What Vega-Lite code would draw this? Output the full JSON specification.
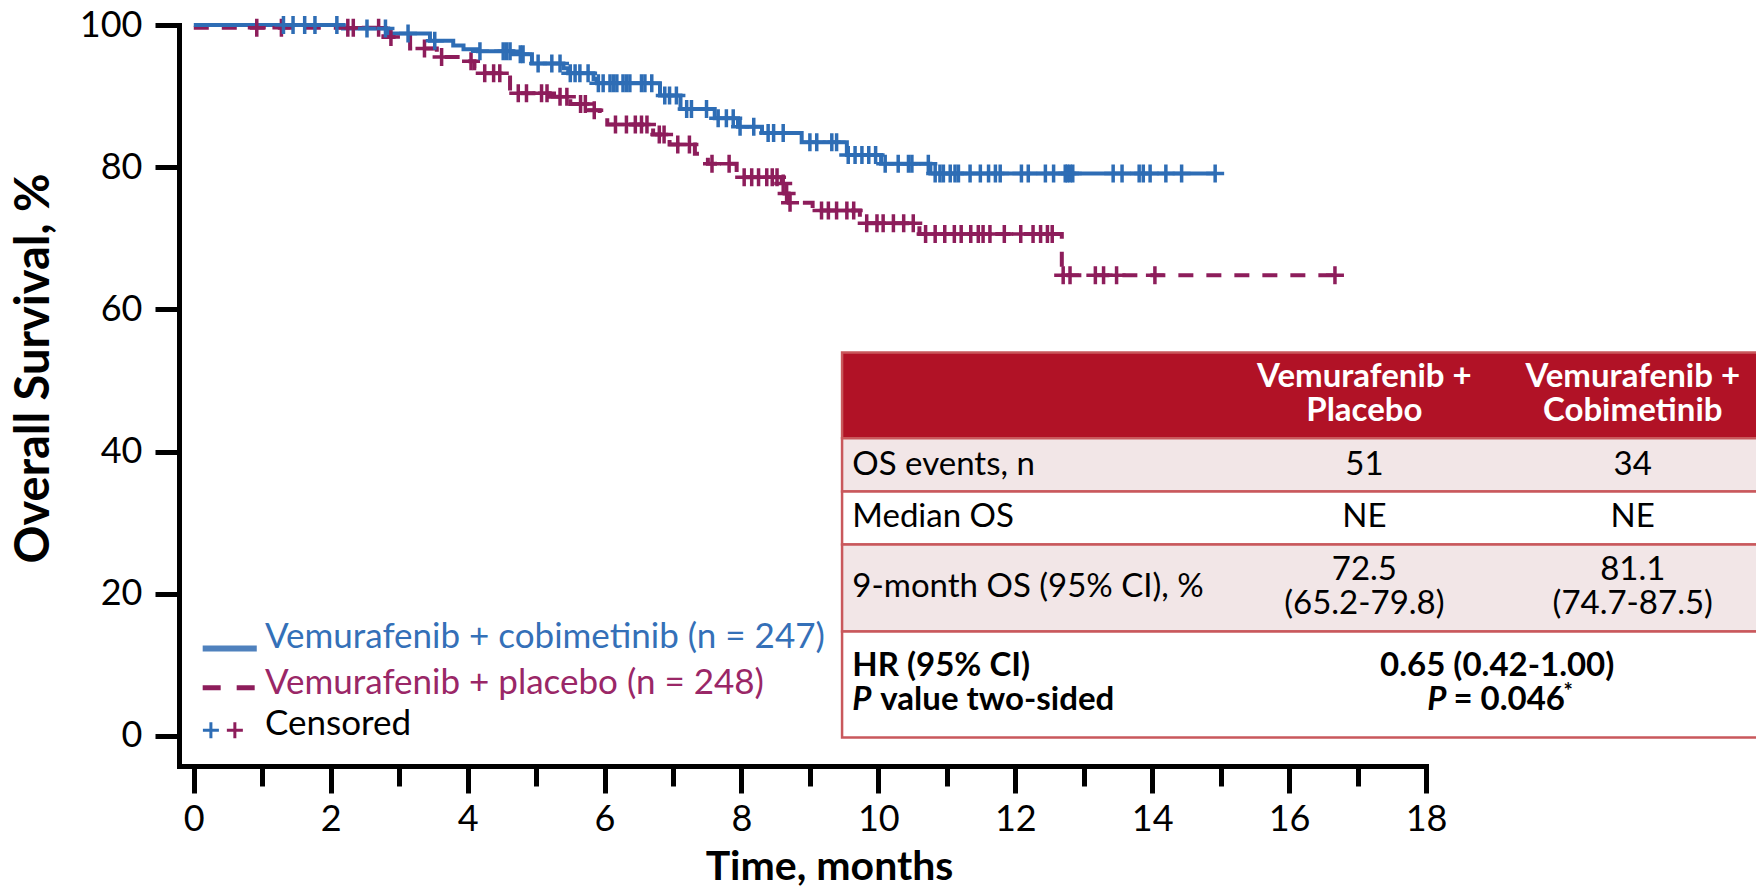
{
  "$schema": "https://vega.github.io/schema/vega-lite/v6.json",
  "width": 1247,
  "height": 741,
  "autosize": "none",
  "padding": {"left": 179, "top": 25, "right": 330, "bottom": 123},
  "background": "white",
  "config": {
    "view": {"stroke": null},
    "font": "Lato",
    "axis": {
      "grid": false,
      "domainColor": "black",
      "tickColor": "black",
      "labelColor": "black",
      "titleColor": "black",
      "domainWidth": 5,
      "domainCap": "square",
      "tickWidth": 5,
      "labelFont": "Lato",
      "labelFontSize": 36,
      "titleFont": "Lato",
      "titleFontWeight": "bold"
    }
  },
  "datasets": {
    "curves": [
      {"arm": "placebo", "time": 0, "surv": 99.6},
      {"arm": "placebo", "time": 2.77, "surv": 98.3},
      {"arm": "placebo", "time": 3.16, "surv": 96.7},
      {"arm": "placebo", "time": 3.55, "surv": 95.5},
      {"arm": "placebo", "time": 3.89, "surv": 94.9},
      {"arm": "placebo", "time": 4.10, "surv": 93.9},
      {"arm": "placebo", "time": 4.18, "surv": 93.2},
      {"arm": "placebo", "time": 4.62, "surv": 90.4},
      {"arm": "placebo", "time": 5.20, "surv": 89.9},
      {"arm": "placebo", "time": 5.50, "surv": 88.9},
      {"arm": "placebo", "time": 5.74, "surv": 88.0},
      {"arm": "placebo", "time": 5.93, "surv": 86.9},
      {"arm": "placebo", "time": 6.04, "surv": 86.0},
      {"arm": "placebo", "time": 6.71, "surv": 84.6},
      {"arm": "placebo", "time": 6.95, "surv": 83.2},
      {"arm": "placebo", "time": 7.32, "surv": 81.9},
      {"arm": "placebo", "time": 7.51, "surv": 80.5},
      {"arm": "placebo", "time": 7.93, "surv": 79.3},
      {"arm": "placebo", "time": 7.99, "surv": 78.6},
      {"arm": "placebo", "time": 8.59, "surv": 77.7},
      {"arm": "placebo", "time": 8.63, "surv": 76.3},
      {"arm": "placebo", "time": 8.69, "surv": 75.0},
      {"arm": "placebo", "time": 9.04, "surv": 73.9},
      {"arm": "placebo", "time": 9.73, "surv": 72.1},
      {"arm": "placebo", "time": 10.60, "surv": 70.6},
      {"arm": "placebo", "time": 12.68, "surv": 64.8},
      {"arm": "placebo", "time": 16.67, "surv": 64.8},
      {"arm": "cobimetinib", "time": 0, "surv": 100},
      {"arm": "cobimetinib", "time": 2.18, "surv": 99.5},
      {"arm": "cobimetinib", "time": 2.84, "surv": 98.8},
      {"arm": "cobimetinib", "time": 3.45, "surv": 97.8},
      {"arm": "cobimetinib", "time": 3.79, "surv": 97.1},
      {"arm": "cobimetinib", "time": 3.94, "surv": 96.6},
      {"arm": "cobimetinib", "time": 4.15, "surv": 96.3},
      {"arm": "cobimetinib", "time": 4.66, "surv": 95.9},
      {"arm": "cobimetinib", "time": 4.94, "surv": 94.6},
      {"arm": "cobimetinib", "time": 5.40, "surv": 93.9},
      {"arm": "cobimetinib", "time": 5.47, "surv": 93.2},
      {"arm": "cobimetinib", "time": 5.84, "surv": 92.4},
      {"arm": "cobimetinib", "time": 5.89, "surv": 91.8},
      {"arm": "cobimetinib", "time": 6.81, "surv": 90.1},
      {"arm": "cobimetinib", "time": 7.11, "surv": 88.2},
      {"arm": "cobimetinib", "time": 7.61, "surv": 86.9},
      {"arm": "cobimetinib", "time": 7.95, "surv": 85.7},
      {"arm": "cobimetinib", "time": 8.30, "surv": 84.8},
      {"arm": "cobimetinib", "time": 8.88, "surv": 83.5},
      {"arm": "cobimetinib", "time": 9.54, "surv": 81.7},
      {"arm": "cobimetinib", "time": 10.04, "surv": 80.5},
      {"arm": "cobimetinib", "time": 10.76, "surv": 79.1},
      {"arm": "cobimetinib", "time": 14.92, "surv": 79.1}
    ],
    "censored": [
      {"arm": "placebo", "time": 0.92, "surv": 99.6},
      {"arm": "placebo", "time": 1.28, "surv": 99.6},
      {"arm": "placebo", "time": 2.25, "surv": 99.6},
      {"arm": "placebo", "time": 2.33, "surv": 99.6},
      {"arm": "placebo", "time": 2.70, "surv": 99.6},
      {"arm": "placebo", "time": 2.88, "surv": 98.3},
      {"arm": "placebo", "time": 3.37, "surv": 96.7},
      {"arm": "placebo", "time": 3.62, "surv": 95.5},
      {"arm": "placebo", "time": 4.05, "surv": 94.9},
      {"arm": "placebo", "time": 4.25, "surv": 93.2},
      {"arm": "placebo", "time": 4.38, "surv": 93.2},
      {"arm": "placebo", "time": 4.47, "surv": 93.2},
      {"arm": "placebo", "time": 4.74, "surv": 90.4},
      {"arm": "placebo", "time": 4.86, "surv": 90.4},
      {"arm": "placebo", "time": 5.08, "surv": 90.4},
      {"arm": "placebo", "time": 5.16, "surv": 90.4},
      {"arm": "placebo", "time": 5.35, "surv": 89.9},
      {"arm": "placebo", "time": 5.45, "surv": 89.9},
      {"arm": "placebo", "time": 5.65, "surv": 88.9},
      {"arm": "placebo", "time": 5.72, "surv": 88.9},
      {"arm": "placebo", "time": 5.85, "surv": 88.0},
      {"arm": "placebo", "time": 6.16, "surv": 86.0},
      {"arm": "placebo", "time": 6.32, "surv": 86.0},
      {"arm": "placebo", "time": 6.45, "surv": 86.0},
      {"arm": "placebo", "time": 6.54, "surv": 86.0},
      {"arm": "placebo", "time": 6.62, "surv": 86.0},
      {"arm": "placebo", "time": 6.80, "surv": 84.6},
      {"arm": "placebo", "time": 6.87, "surv": 84.6},
      {"arm": "placebo", "time": 7.07, "surv": 83.2},
      {"arm": "placebo", "time": 7.24, "surv": 83.2},
      {"arm": "placebo", "time": 7.57, "surv": 80.5},
      {"arm": "placebo", "time": 7.82, "surv": 80.5},
      {"arm": "placebo", "time": 8.04, "surv": 78.6},
      {"arm": "placebo", "time": 8.15, "surv": 78.6},
      {"arm": "placebo", "time": 8.25, "surv": 78.6},
      {"arm": "placebo", "time": 8.37, "surv": 78.6},
      {"arm": "placebo", "time": 8.45, "surv": 78.6},
      {"arm": "placebo", "time": 8.52, "surv": 78.6},
      {"arm": "placebo", "time": 8.61, "surv": 77.7},
      {"arm": "placebo", "time": 8.66, "surv": 76.3},
      {"arm": "placebo", "time": 8.71, "surv": 75.0},
      {"arm": "placebo", "time": 9.17, "surv": 73.9},
      {"arm": "placebo", "time": 9.27, "surv": 73.9},
      {"arm": "placebo", "time": 9.39, "surv": 73.9},
      {"arm": "placebo", "time": 9.54, "surv": 73.9},
      {"arm": "placebo", "time": 9.64, "surv": 73.9},
      {"arm": "placebo", "time": 9.83, "surv": 72.1},
      {"arm": "placebo", "time": 9.98, "surv": 72.1},
      {"arm": "placebo", "time": 10.07, "surv": 72.1},
      {"arm": "placebo", "time": 10.22, "surv": 72.1},
      {"arm": "placebo", "time": 10.37, "surv": 72.1},
      {"arm": "placebo", "time": 10.51, "surv": 72.1},
      {"arm": "placebo", "time": 10.69, "surv": 70.6},
      {"arm": "placebo", "time": 10.83, "surv": 70.6},
      {"arm": "placebo", "time": 10.97, "surv": 70.6},
      {"arm": "placebo", "time": 11.11, "surv": 70.6},
      {"arm": "placebo", "time": 11.21, "surv": 70.6},
      {"arm": "placebo", "time": 11.35, "surv": 70.6},
      {"arm": "placebo", "time": 11.46, "surv": 70.6},
      {"arm": "placebo", "time": 11.53, "surv": 70.6},
      {"arm": "placebo", "time": 11.63, "surv": 70.6},
      {"arm": "placebo", "time": 11.84, "surv": 70.6},
      {"arm": "placebo", "time": 12.08, "surv": 70.6},
      {"arm": "placebo", "time": 12.26, "surv": 70.6},
      {"arm": "placebo", "time": 12.37, "surv": 70.6},
      {"arm": "placebo", "time": 12.47, "surv": 70.6},
      {"arm": "placebo", "time": 12.54, "surv": 70.6},
      {"arm": "placebo", "time": 12.70, "surv": 64.8},
      {"arm": "placebo", "time": 12.80, "surv": 64.8},
      {"arm": "placebo", "time": 13.17, "surv": 64.8},
      {"arm": "placebo", "time": 13.29, "surv": 64.8},
      {"arm": "placebo", "time": 13.48, "surv": 64.8},
      {"arm": "placebo", "time": 14.04, "surv": 64.8},
      {"arm": "placebo", "time": 16.67, "surv": 64.8},
      {"arm": "cobimetinib", "time": 1.31, "surv": 100},
      {"arm": "cobimetinib", "time": 1.45, "surv": 100},
      {"arm": "cobimetinib", "time": 1.62, "surv": 100},
      {"arm": "cobimetinib", "time": 1.77, "surv": 100},
      {"arm": "cobimetinib", "time": 2.09, "surv": 100},
      {"arm": "cobimetinib", "time": 2.53, "surv": 99.5},
      {"arm": "cobimetinib", "time": 2.80, "surv": 99.5},
      {"arm": "cobimetinib", "time": 3.13, "surv": 98.8},
      {"arm": "cobimetinib", "time": 3.52, "surv": 97.8},
      {"arm": "cobimetinib", "time": 4.18, "surv": 96.3},
      {"arm": "cobimetinib", "time": 4.52, "surv": 96.3},
      {"arm": "cobimetinib", "time": 4.57, "surv": 96.3},
      {"arm": "cobimetinib", "time": 4.62, "surv": 96.3},
      {"arm": "cobimetinib", "time": 4.77, "surv": 95.9},
      {"arm": "cobimetinib", "time": 4.81, "surv": 95.9},
      {"arm": "cobimetinib", "time": 5.03, "surv": 94.6},
      {"arm": "cobimetinib", "time": 5.23, "surv": 94.6},
      {"arm": "cobimetinib", "time": 5.35, "surv": 94.6},
      {"arm": "cobimetinib", "time": 5.50, "surv": 93.2},
      {"arm": "cobimetinib", "time": 5.57, "surv": 93.2},
      {"arm": "cobimetinib", "time": 5.64, "surv": 93.2},
      {"arm": "cobimetinib", "time": 5.76, "surv": 93.2},
      {"arm": "cobimetinib", "time": 5.91, "surv": 91.8},
      {"arm": "cobimetinib", "time": 5.98, "surv": 91.8},
      {"arm": "cobimetinib", "time": 6.08, "surv": 91.8},
      {"arm": "cobimetinib", "time": 6.13, "surv": 91.8},
      {"arm": "cobimetinib", "time": 6.18, "surv": 91.8},
      {"arm": "cobimetinib", "time": 6.27, "surv": 91.8},
      {"arm": "cobimetinib", "time": 6.32, "surv": 91.8},
      {"arm": "cobimetinib", "time": 6.37, "surv": 91.8},
      {"arm": "cobimetinib", "time": 6.54, "surv": 91.8},
      {"arm": "cobimetinib", "time": 6.59, "surv": 91.8},
      {"arm": "cobimetinib", "time": 6.69, "surv": 91.8},
      {"arm": "cobimetinib", "time": 6.88, "surv": 90.1},
      {"arm": "cobimetinib", "time": 6.95, "surv": 90.1},
      {"arm": "cobimetinib", "time": 7.05, "surv": 90.1},
      {"arm": "cobimetinib", "time": 7.20, "surv": 88.2},
      {"arm": "cobimetinib", "time": 7.27, "surv": 88.2},
      {"arm": "cobimetinib", "time": 7.49, "surv": 88.2},
      {"arm": "cobimetinib", "time": 7.66, "surv": 86.9},
      {"arm": "cobimetinib", "time": 7.78, "surv": 86.9},
      {"arm": "cobimetinib", "time": 7.88, "surv": 86.9},
      {"arm": "cobimetinib", "time": 7.98, "surv": 85.7},
      {"arm": "cobimetinib", "time": 8.18, "surv": 85.7},
      {"arm": "cobimetinib", "time": 8.39, "surv": 84.8},
      {"arm": "cobimetinib", "time": 8.47, "surv": 84.8},
      {"arm": "cobimetinib", "time": 8.61, "surv": 84.8},
      {"arm": "cobimetinib", "time": 9.00, "surv": 83.5},
      {"arm": "cobimetinib", "time": 9.10, "surv": 83.5},
      {"arm": "cobimetinib", "time": 9.32, "surv": 83.5},
      {"arm": "cobimetinib", "time": 9.39, "surv": 83.5},
      {"arm": "cobimetinib", "time": 9.56, "surv": 81.7},
      {"arm": "cobimetinib", "time": 9.66, "surv": 81.7},
      {"arm": "cobimetinib", "time": 9.76, "surv": 81.7},
      {"arm": "cobimetinib", "time": 9.86, "surv": 81.7},
      {"arm": "cobimetinib", "time": 9.96, "surv": 81.7},
      {"arm": "cobimetinib", "time": 10.10, "surv": 80.5},
      {"arm": "cobimetinib", "time": 10.29, "surv": 80.5},
      {"arm": "cobimetinib", "time": 10.44, "surv": 80.5},
      {"arm": "cobimetinib", "time": 10.49, "surv": 80.5},
      {"arm": "cobimetinib", "time": 10.73, "surv": 80.5},
      {"arm": "cobimetinib", "time": 10.83, "surv": 79.1},
      {"arm": "cobimetinib", "time": 10.90, "surv": 79.1},
      {"arm": "cobimetinib", "time": 10.95, "surv": 79.1},
      {"arm": "cobimetinib", "time": 11.05, "surv": 79.1},
      {"arm": "cobimetinib", "time": 11.12, "surv": 79.1},
      {"arm": "cobimetinib", "time": 11.17, "surv": 79.1},
      {"arm": "cobimetinib", "time": 11.34, "surv": 79.1},
      {"arm": "cobimetinib", "time": 11.49, "surv": 79.1},
      {"arm": "cobimetinib", "time": 11.61, "surv": 79.1},
      {"arm": "cobimetinib", "time": 11.71, "surv": 79.1},
      {"arm": "cobimetinib", "time": 11.78, "surv": 79.1},
      {"arm": "cobimetinib", "time": 12.09, "surv": 79.1},
      {"arm": "cobimetinib", "time": 12.19, "surv": 79.1},
      {"arm": "cobimetinib", "time": 12.44, "surv": 79.1},
      {"arm": "cobimetinib", "time": 12.56, "surv": 79.1},
      {"arm": "cobimetinib", "time": 12.73, "surv": 79.1},
      {"arm": "cobimetinib", "time": 12.76, "surv": 79.1},
      {"arm": "cobimetinib", "time": 12.80, "surv": 79.1},
      {"arm": "cobimetinib", "time": 12.84, "surv": 79.1},
      {"arm": "cobimetinib", "time": 13.43, "surv": 79.1},
      {"arm": "cobimetinib", "time": 13.56, "surv": 79.1},
      {"arm": "cobimetinib", "time": 13.81, "surv": 79.1},
      {"arm": "cobimetinib", "time": 13.87, "surv": 79.1},
      {"arm": "cobimetinib", "time": 13.97, "surv": 79.1},
      {"arm": "cobimetinib", "time": 14.20, "surv": 79.1},
      {"arm": "cobimetinib", "time": 14.43, "surv": 79.1},
      {"arm": "cobimetinib", "time": 14.92, "surv": 79.1}
    ],
    "one": [{}]
  },
  "layer": [
    {
      "data": {"name": "curves"},
      "mark": {"type": "line", "interpolate": "step-after", "strokeWidth": 4},
      "encoding": {
        "x": {
          "field": "time", "type": "quantitative",
          "scale": {"domain": [-0.216, 18], "nice": false, "zero": false},
          "axis": {
            "title": "Time, months",
            "titleFontSize": 41,
            "format": "d",
            "values": [0,1,2,3,4,5,6,7,8,9,10,11,12,13,14,15,16,17,18],
            "labelExpr": "datum.value % 2 === 0 ? datum.label : ''",
            "tickSize": {"condition": {"test": "datum.value % 2 === 0", "value": 27}, "value": 20},
            "labelPadding": 9,
            "labelFlush": false,
            "labelOverlap": false,
            "titleX": 650,
            "titleY": 101,
            "titleBaseline": "middle",
            "titleAlign": "center"
          }
        },
        "y": {
          "field": "surv", "type": "quantitative",
          "scale": {"domain": [-4.22, 100], "nice": false, "zero": false},
          "axis": {
            "title": "Overall Survival, %",
            "titleFontSize": 47,
            "format": "d",
            "values": [0, 20, 40, 60, 80, 100],
            "tickSize": 24,
            "labelPadding": 13,
            "labelFlush": false,
            "labelOverlap": false,
            "titleX": -145,
            "titleY": 343,
            "titleAngle": -90,
            "titleBaseline": "middle",
            "titleAlign": "center"
          }
        },
        "color": {
          "field": "arm", "type": "nominal",
          "scale": {"domain": ["placebo", "cobimetinib"], "range": ["#8d1d5b", "#2e6db5"]},
          "legend": null
        },
        "strokeDash": {
          "field": "arm", "type": "nominal",
          "scale": {"domain": ["placebo", "cobimetinib"], "range": [[15, 13], [1, 0]]},
          "legend": null
        }
      }
    },
    {
      "data": {"name": "censored"},
      "mark": {"type": "point", "shape": "M-1,0H1M0,-1V1", "filled": false, "size": 324, "strokeWidth": 3.5, "opacity": 1},
      "encoding": {
        "x": {"field": "time", "type": "quantitative"},
        "y": {"field": "surv", "type": "quantitative"},
        "color": {"field": "arm", "type": "nominal", "legend": null}
      }
    },
    {
      "data": {"name": "one"},
      "layer": [
        {"mark": {"type": "rect", "fill": "#b11226", "stroke": "#c9585c", "strokeWidth": 2.5},
         "encoding": {"x": {"datum": 9.47}, "x2": {"datum": 23}, "y": {"datum": 53.95}, "y2": {"datum": 41.86}}},
        {"mark": {"type": "rect", "fill": "#f2e6e7", "stroke": "#c9585c", "strokeWidth": 2.5},
         "encoding": {"x": {"datum": 9.47}, "x2": {"datum": 23}, "y": {"datum": 41.86}, "y2": {"datum": 34.4}}},
        {"mark": {"type": "rect", "fill": "#ffffff", "stroke": "#c9585c", "strokeWidth": 2.5},
         "encoding": {"x": {"datum": 9.47}, "x2": {"datum": 23}, "y": {"datum": 34.4}, "y2": {"datum": 26.95}}},
        {"mark": {"type": "rect", "fill": "#f2e6e7", "stroke": "#c9585c", "strokeWidth": 2.5},
         "encoding": {"x": {"datum": 9.47}, "x2": {"datum": 23}, "y": {"datum": 26.95}, "y2": {"datum": 14.7}}},
        {"mark": {"type": "rect", "fill": "#ffffff", "stroke": "#c9585c", "strokeWidth": 2.5},
         "encoding": {"x": {"datum": 9.47}, "x2": {"datum": 23}, "y": {"datum": 14.7}, "y2": {"datum": -0.2}}},

        {"mark": {"type": "text", "text": "Vemurafenib +", "font": "Lato", "fontSize": 33, "fontWeight": "bold", "color": "white", "align": "center", "baseline": "middle"},
         "encoding": {"x": {"datum": 17.10}, "y": {"datum": 50.44}}},
        {"mark": {"type": "text", "text": "Placebo", "font": "Lato", "fontSize": 33, "fontWeight": "bold", "color": "white", "align": "center", "baseline": "middle"},
         "encoding": {"x": {"datum": 17.10}, "y": {"datum": 45.66}}},
        {"mark": {"type": "text", "text": "Vemurafenib +", "font": "Lato", "fontSize": 33, "fontWeight": "bold", "color": "white", "align": "center", "baseline": "middle"},
         "encoding": {"x": {"datum": 21.02}, "y": {"datum": 50.44}}},
        {"mark": {"type": "text", "text": "Cobimetinib", "font": "Lato", "fontSize": 33, "fontWeight": "bold", "color": "white", "align": "center", "baseline": "middle"},
         "encoding": {"x": {"datum": 21.02}, "y": {"datum": 45.66}}},

        {"mark": {"type": "text", "text": "OS events, n", "font": "Lato", "fontSize": 33, "color": "black", "align": "left", "baseline": "middle"},
         "encoding": {"x": {"datum": 9.62}, "y": {"datum": 38.06}}},
        {"mark": {"type": "text", "text": "51", "font": "Lato", "fontSize": 33, "color": "black", "align": "center", "baseline": "middle"},
         "encoding": {"x": {"datum": 17.10}, "y": {"datum": 38.06}}},
        {"mark": {"type": "text", "text": "34", "font": "Lato", "fontSize": 33, "color": "black", "align": "center", "baseline": "middle"},
         "encoding": {"x": {"datum": 21.02}, "y": {"datum": 38.06}}},

        {"mark": {"type": "text", "text": "Median OS", "font": "Lato", "fontSize": 33, "color": "black", "align": "left", "baseline": "middle"},
         "encoding": {"x": {"datum": 9.62}, "y": {"datum": 30.75}}},
        {"mark": {"type": "text", "text": "NE", "font": "Lato", "fontSize": 33, "color": "black", "align": "center", "baseline": "middle"},
         "encoding": {"x": {"datum": 17.10}, "y": {"datum": 30.75}}},
        {"mark": {"type": "text", "text": "NE", "font": "Lato", "fontSize": 33, "color": "black", "align": "center", "baseline": "middle"},
         "encoding": {"x": {"datum": 21.02}, "y": {"datum": 30.75}}},

        {"mark": {"type": "text", "text": "9-month OS (95% CI), %", "font": "Lato", "fontSize": 33, "color": "black", "align": "left", "baseline": "middle"},
         "encoding": {"x": {"datum": 9.62}, "y": {"datum": 20.9}}},
        {"mark": {"type": "text", "text": "72.5", "font": "Lato", "fontSize": 33, "color": "black", "align": "center", "baseline": "middle"},
         "encoding": {"x": {"datum": 17.10}, "y": {"datum": 23.29}}},
        {"mark": {"type": "text", "text": "(65.2-79.8)", "font": "Lato", "fontSize": 33, "color": "black", "align": "center", "baseline": "middle"},
         "encoding": {"x": {"datum": 17.10}, "y": {"datum": 18.51}}},
        {"mark": {"type": "text", "text": "81.1", "font": "Lato", "fontSize": 33, "color": "black", "align": "center", "baseline": "middle"},
         "encoding": {"x": {"datum": 21.02}, "y": {"datum": 23.29}}},
        {"mark": {"type": "text", "text": "(74.7-87.5)", "font": "Lato", "fontSize": 33, "color": "black", "align": "center", "baseline": "middle"},
         "encoding": {"x": {"datum": 21.02}, "y": {"datum": 18.51}}},

        {"mark": {"type": "text", "text": "HR (95% CI)", "font": "Lato", "fontSize": 33, "fontWeight": "bold", "color": "black", "align": "left", "baseline": "middle"},
         "encoding": {"x": {"datum": 9.62}, "y": {"datum": 9.8}}},
        {"mark": {"type": "text", "text": "P", "font": "Lato", "fontSize": 33, "fontWeight": "bold", "fontStyle": "italic", "color": "black", "align": "left", "baseline": "middle"},
         "encoding": {"x": {"datum": 9.62}, "y": {"datum": 5.0}}},
        {"mark": {"type": "text", "text": "value two-sided", "dx": 28, "font": "Lato", "fontSize": 33, "fontWeight": "bold", "color": "black", "align": "left", "baseline": "middle"},
         "encoding": {"x": {"datum": 9.62}, "y": {"datum": 5.0}}},
        {"mark": {"type": "text", "text": "0.65 (0.42-1.00)", "font": "Lato", "fontSize": 33, "fontWeight": "bold", "color": "black", "align": "center", "baseline": "middle"},
         "encoding": {"x": {"datum": 19.04}, "y": {"datum": 9.8}}},
        {"mark": {"type": "text", "text": "P", "font": "Lato", "fontSize": 33, "fontWeight": "bold", "fontStyle": "italic", "color": "black", "align": "left", "baseline": "middle"},
         "encoding": {"x": {"datum": 18.02}, "y": {"datum": 5.0}}},
        {"mark": {"type": "text", "text": "= 0.046", "font": "Lato", "fontSize": 33, "fontWeight": "bold", "color": "black", "align": "left", "baseline": "middle"},
         "encoding": {"x": {"datum": 18.40}, "y": {"datum": 5.0}}},
        {"mark": {"type": "text", "text": "*", "font": "Lato", "fontSize": 22, "fontWeight": "bold", "color": "black", "align": "left", "baseline": "middle"},
         "encoding": {"x": {"datum": 20.01}, "y": {"datum": 6.2}}},

        {"mark": {"type": "rule", "stroke": "#4f81bd", "strokeWidth": 6},
         "encoding": {"x": {"datum": 0.13}, "x2": {"datum": 0.92}, "y": {"datum": 12.3}}},
        {"mark": {"type": "rule", "stroke": "#8d1d5b", "strokeWidth": 5, "strokeDash": [18, 16]},
         "encoding": {"x": {"datum": 0.13}, "x2": {"datum": 0.92}, "y": {"datum": 6.8}}},
        {"mark": {"type": "text", "text": "Vemurafenib + cobimetinib (n = 247)", "font": "Lato", "fontSize": 35, "color": "#3470b8", "align": "left", "baseline": "middle"},
         "encoding": {"x": {"datum": 1.04}, "y": {"datum": 13.9}}},
        {"mark": {"type": "text", "text": "Vemurafenib + placebo (n = 248)", "font": "Lato", "fontSize": 35, "color": "#9a2767", "align": "left", "baseline": "middle"},
         "encoding": {"x": {"datum": 1.04}, "y": {"datum": 7.5}}},
        {"mark": {"type": "text", "text": "Censored", "font": "Lato", "fontSize": 35, "color": "black", "align": "left", "baseline": "middle"},
         "encoding": {"x": {"datum": 1.04}, "y": {"datum": 1.75}}},
        {"mark": {"type": "point", "shape": "M-1,0H1M0,-1V1", "filled": false, "size": 256, "strokeWidth": 3, "opacity": 1, "stroke": "#2e6db5"},
         "encoding": {"x": {"datum": 0.25}, "y": {"datum": 0.8}}},
        {"mark": {"type": "point", "shape": "M-1,0H1M0,-1V1", "filled": false, "size": 256, "strokeWidth": 3, "opacity": 1, "stroke": "#8d1d5b"},
         "encoding": {"x": {"datum": 0.6}, "y": {"datum": 0.8}}}
      ]
    }
  ]
}
